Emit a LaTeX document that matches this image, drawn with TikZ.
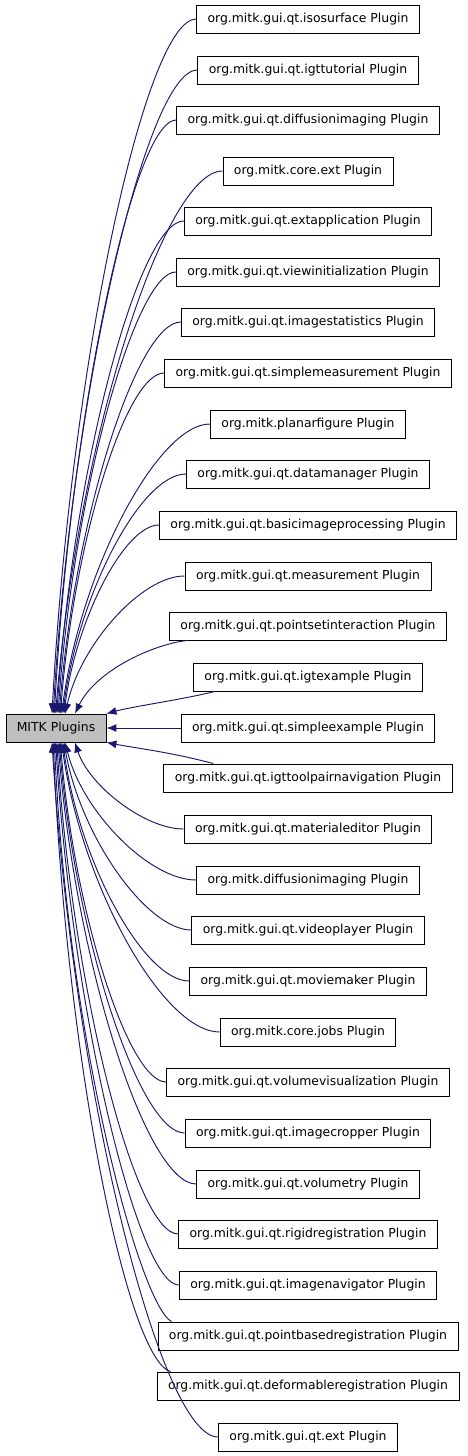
\documentclass[tikz,border=0pt]{standalone}
\usepackage{fontspec}
\setmainfont{DejaVu Sans}
\usepackage{tikz}
\usetikzlibrary{arrows.meta}
\definecolor{edgeblue}{HTML}{191970}
\definecolor{rootgray}{HTML}{BFBFBF}

\begin{document}
\begin{tikzpicture}[x=1pt,y=-1pt,>={Latex[length=10pt,width=8pt]},
	plugin/.style={draw=black, line width=0.9pt, minimum height=28pt, inner xsep=11pt, font=\fontsize{12.4}{14}\selectfont},
	dep/.style={->, draw=edgeblue, line width=0.95pt}]
		\useasboundingbox (0,0) rectangle (467,1456);
		\node[plugin, fill=rootgray, minimum width=100pt, inner xsep=0pt] (mitk) at (56,728) {MITK Plugins};
		% plugins above
		\node[plugin] (isosurface) at (308,19) {org.mitk.gui.qt.isosurface Plugin};
		\node[plugin] (igttutorial) at (308,70) {org.mitk.gui.qt.igttutorial Plugin};
		\node[plugin] (qtdiffusion) at (308,120) {org.mitk.gui.qt.diffusionimaging Plugin};
		\node[plugin] (coreext) at (308,171) {org.mitk.core.ext Plugin};
		\node[plugin] (extapp) at (308,221) {org.mitk.gui.qt.extapplication Plugin};
		\node[plugin] (viewinit) at (308,272) {org.mitk.gui.qt.viewinitialization Plugin};
		\node[plugin] (imgstats) at (308,322) {org.mitk.gui.qt.imagestatistics Plugin};
		\node[plugin] (simplemeas) at (308,373) {org.mitk.gui.qt.simplemeasurement Plugin};
		\node[plugin] (planar) at (308,424) {org.mitk.planarfigure Plugin};
		\node[plugin] (datamgr) at (308,474) {org.mitk.gui.qt.datamanager Plugin};
		\node[plugin] (basicimg) at (308,525) {org.mitk.gui.qt.basicimageprocessing Plugin};
		\node[plugin] (measure) at (308,576) {org.mitk.gui.qt.measurement Plugin};
		\node[plugin] (pointset) at (308,626) {org.mitk.gui.qt.pointsetinteraction Plugin};
		\node[plugin] (igtexample) at (308,677) {org.mitk.gui.qt.igtexample Plugin};
		\node[plugin] (simpleex) at (308,728) {org.mitk.gui.qt.simpleexample Plugin};
		% plugins below
		\node[plugin] (igtpair) at (308,778) {org.mitk.gui.qt.igttoolpairnavigation Plugin};
		\node[plugin] (mateditor) at (308,829) {org.mitk.gui.qt.materialeditor Plugin};
		\node[plugin] (diffusion) at (308,880) {org.mitk.diffusionimaging Plugin};
		\node[plugin] (video) at (308,930) {org.mitk.gui.qt.videoplayer Plugin};
		\node[plugin] (movie) at (308,981) {org.mitk.gui.qt.moviemaker Plugin};
		\node[plugin] (corejobs) at (308,1032) {org.mitk.core.jobs Plugin};
		\node[plugin] (volvis) at (308,1082) {org.mitk.gui.qt.volumevisualization Plugin};
		\node[plugin] (cropper) at (308,1133) {org.mitk.gui.qt.imagecropper Plugin};
		\node[plugin] (volumetry) at (308,1184) {org.mitk.gui.qt.volumetry Plugin};
		\node[plugin] (rigid) at (308,1234) {org.mitk.gui.qt.rigidregistration Plugin};
		\node[plugin] (imgnav) at (308,1285) {org.mitk.gui.qt.imagenavigator Plugin};
		\node[plugin] (pointbased) at (308,1336) {org.mitk.gui.qt.pointbasedregistration Plugin};
		\node[plugin] (deformable) at (308,1386) {org.mitk.gui.qt.deformableregistration Plugin};
		\node[plugin] (qtext) at (308,1437) {org.mitk.gui.qt.ext Plugin};
		% edges from above
		\draw[dep] (isosurface.west) .. controls (145,19) and (70.6,366.5) .. ([xshift=-4pt]mitk.north);
		\draw[dep] (igttutorial.west) .. controls (146.7,70) and (71.9,392) .. ([xshift=-2.8pt]mitk.north);
		\draw[dep] (qtdiffusion.west) .. controls (133.4,120) and (70.2,417) .. ([xshift=-1.6pt]mitk.north);
		\draw[dep] (coreext.west) .. controls (163.8,171) and (77.2,442.5) .. ([xshift=-0.4pt]mitk.north);
		\draw[dep] (extapp.west) .. controls (138.8,221) and (73.2,467.5) .. ([xshift=0.8pt]mitk.north);
		\draw[dep] (viewinit.west) .. controls (135.4,272) and (73.5,493) .. ([xshift=2pt]mitk.north);
		\draw[dep] (imgstats.west) .. controls (137.1,322) and (74.8,518) .. ([xshift=3.2pt]mitk.north);
		\draw[dep] (simplemeas.west) .. controls (125.8,373) and (73.5,543.5) .. ([xshift=4.4pt]mitk.north);
		\draw[dep] (planar.west) .. controls (158.1,424) and (80.9,569) .. ([xshift=5.6pt]mitk.north);
		\draw[dep] (datamgr.west) .. controls (140.9,474) and (78.4,594) .. ([xshift=6.8pt]mitk.north);
		\draw[dep] (basicimg.west) .. controls (124.4,525) and (76.1,619.5) .. ([xshift=8pt]mitk.north);
		\draw[dep] (measure.west) .. controls (141.1,576) and (80.4,645) .. ([xshift=9.2pt]mitk.north);
		\draw[dep] ([xshift=18pt]pointset.south west) .. controls (150,645) and (95,672) .. ([xshift=19pt]mitk.north);
		\draw[dep] ([xshift=22pt]igtexample.south west) .. controls (180,700) and (135,706) .. (mitk.north east);
		\draw[dep] (simpleex.west) -- (mitk.east);
		% edges from below
		\draw[dep] ([xshift=50pt]igtpair.north west) .. controls (170,752) and (135,748) .. (mitk.south east);
		\draw[dep] (mateditor.west) .. controls (144.6,829) and (88.9,785.5) .. ([xshift=19pt]mitk.south);
		\draw[dep] (diffusion.west) .. controls (148.9,880) and (81.9,811) .. ([xshift=9.2pt]mitk.south);
		\draw[dep] (video.west) .. controls (146.5,930) and (80.5,836) .. ([xshift=8pt]mitk.south);
		\draw[dep] (movie.west) .. controls (143.5,981) and (79,861.5) .. ([xshift=6.8pt]mitk.south);
		\draw[dep] (corejobs.west) .. controls (163.3,1032) and (81.9,887) .. ([xshift=5.6pt]mitk.south);
		\draw[dep] (volvis.west) .. controls (128.4,1082) and (74,912) .. ([xshift=4.4pt]mitk.south);
		\draw[dep] (cropper.west) .. controls (139.7,1133) and (75.3,937.5) .. ([xshift=3.2pt]mitk.south);
		\draw[dep] (volumetry.west) .. controls (146.4,1184) and (75.7,963) .. ([xshift=2pt]mitk.south);
		\draw[dep] (rigid.west) .. controls (134.9,1234) and (72.4,988) .. ([xshift=0.8pt]mitk.south);
		\draw[dep] (imgnav.west) .. controls (138.4,1285) and (72.2,1013.5) .. ([xshift=-0.4pt]mitk.south);
		\draw[dep] ([xshift=14pt]pointbased.north west) .. controls (140,1305) and (67.6,1039) .. ([xshift=-1.6pt]mitk.south);
		\draw[dep] ([xshift=14pt]deformable.north west) .. controls (128,1360) and (66.3,1064) .. ([xshift=-2.8pt]mitk.south);
		\draw[dep] (qtext.west) .. controls (159.9,1437) and (73.6,1089.5) .. ([xshift=-4pt]mitk.south);
	\end{tikzpicture}
\end{document}
